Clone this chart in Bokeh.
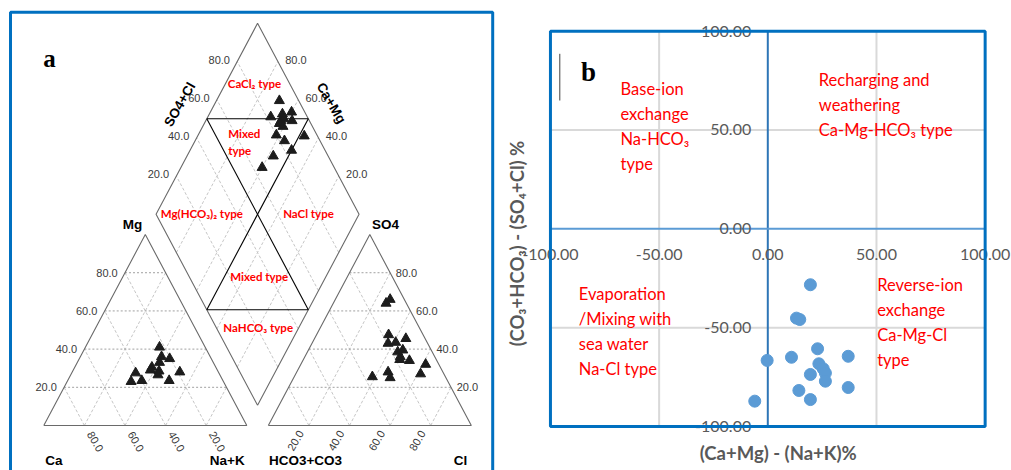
import numpy as np
from bokeh.plotting import figure
from bokeh.layouts import row
from bokeh.core.properties import value
from bokeh.embed import file_html
from bokeh.resources import INLINE

# ---------------- data ----------------
# Panel a: Piper diagram (percent)
cation_ca = [22.5, 24, 26.5, 20.5, 31.5, 33, 29, 30.5, 41, 40, 45.5, 26.5, 19]
cation_mg = [41, 36, 33, 35, 30.5, 29, 28.5, 26.5, 27.5, 23.5, 23, 23.5, 28]
cation_nak = [36.5, 40, 40.5, 44.5, 38, 38, 42.5, 43, 31.5, 36.5, 31.5, 50, 53]

anion_hco3 = [7, 10, 17, 9.5, 19.5, 15.5, 17, 14, 17, 18, 13.5, 6.5, 11.5, 36, 27, 27.5]
anion_so4 = [66, 64, 47.5, 45.5, 43, 43.5, 38.5, 39.5, 36, 34.5, 34, 32, 27, 25.5, 28, 25]
anion_cl = [27, 26, 35.5, 45, 37.5, 41, 44.5, 46.5, 47, 47.5, 52.5, 61.5, 61.5, 38.5, 45, 47.5]

diamond_camg = [69, 69, 64, 60, 63, 62, 57.5, 63, 60.5, 61.5, 47.5, 56, 57.5, 50, 60]
diamond_so4cl = [90.5, 82, 88.5, 93.5, 86, 88, 91.5, 84.5, 85.5, 80, 93.5, 82.5, 73, 83.5, 64.5]

piper_ticks = [20, 40, 60, 80]
piper_tick_labels = ["20.0", "40.0", "60.0", "80.0"]

# Panel b: Chadha plot
chadha_x = [19.6, 13.2, 14.7, 22.9, -0.3, 10.9, 37.0, 23.5, 25.5, 26.5, 19.6, 26.5, 14.3, 37.0, 19.6, -6.0]
chadha_y = [-28.3, -45.2, -45.9, -60.7, -66.6, -65.0, -64.5, -68.3, -70.8, -73.0, -73.7, -77.1, -81.8, -80.3, -86.4, -87.2]
chadha_ticks = [-100, -50, 0, 50, 100]
chadha_tick_labels = ["-100.00", "-50.00", "0.00", "50.00", "100.00"]

# ---------------- panel a ----------------
H = np.sqrt(3) / 2
GAP = 0.106
SXA, SYA = 203.0, 220.5
OXA, OYA = 43.3, 425.0
WA, HA = 496, 470
SPLIT = WA


def ax(px):
    return (px - OXA) / SXA


def ay(py):
    return (OYA - py) / SYA


pA = figure(width=WA, height=HA, x_range=(ax(0), ax(WA)), y_range=(ay(HA), ay(0)),
            x_axis_type=None, y_axis_type=None, toolbar_location=None, output_backend="svg",
            min_border=0, outline_line_color=None,
            background_fill_color="white", border_fill_color="white")


def cat_xy(ca, mg, nak):
    mg = np.asarray(mg, dtype=float) / 100
    nak = np.asarray(nak, dtype=float) / 100
    return nak + 0.5 * mg, H * mg


def an_xy(hco3, so4, cl):
    so4 = np.asarray(so4, dtype=float) / 100
    cl = np.asarray(cl, dtype=float) / 100
    return 1 + GAP + cl + 0.5 * so4, H * so4


BX, BY = 1 + GAP / 2, GAP * H


def dia_xy(camg, so4cl):
    a = np.asarray(camg, dtype=float) / 100
    b = np.asarray(so4cl, dtype=float) / 100
    return BX - 0.5 * a + 0.5 * b, BY + H * (a + b)


# grid lines
gx, gy, hx, hy = [], [], [], []
o = 1 + GAP
for t in piper_ticks:
    v = t / 100
    hx.append([0.5 * v, 1 - 0.5 * v]); hy.append([H * v, H * v])
    gx.append([1 - v, 0.5 * (1 - v)]); gy.append([0, H * (1 - v)])
    gx.append([v, v + 0.5 * (1 - v)]); gy.append([0, H * (1 - v)])
    hx.append([o + 0.5 * v, o + 1 - 0.5 * v]); hy.append([H * v, H * v])
    gx.append([o + 1 - v, o + 0.5 * (1 - v)]); gy.append([0, H * (1 - v)])
    gx.append([o + v, o + v + 0.5 * (1 - v)]); gy.append([0, H * (1 - v)])
    x1, y1 = dia_xy(t, 0); x2, y2 = dia_xy(t, 100)
    gx.append([float(x1), float(x2)]); gy.append([float(y1), float(y2)])
    x1, y1 = dia_xy(0, t); x2, y2 = dia_xy(100, t)
    gx.append([float(x1), float(x2)]); gy.append([float(y1), float(y2)])
pA.multi_line(gx, gy, line_color="#c6c6c6", line_width=1, line_dash="3 2")
pA.multi_line(hx, hy, line_color="#a0a0a0", line_width=1, line_dash="2 2")

# outlines
dcx, dcy = dia_xy([0, 100, 100, 0, 0], [0, 0, 100, 100, 0])
pA.multi_line([[0, 1, 0.5, 0], [o, o + 1, o + 0.5, o], list(dcx)],
              [[0, 0, H, 0], [0, 0, H, 0], list(dcy)],
              line_color="#6a6a6a", line_width=1.1)

# region lines in the diamond
rl = [((50, 0), (50, 100)), ((0, 50), (100, 50)), ((100, 50), (50, 100)), ((50, 0), (0, 50))]
rx, ry = [], []
for (a1, b1), (a2, b2) in rl:
    x1, y1 = dia_xy(a1, b1); x2, y2 = dia_xy(a2, b2)
    rx.append([float(x1), float(x2)]); ry.append([float(y1), float(y2)])
pA.multi_line(rx, ry, line_color="black", line_width=1.1)

# points
cx, cy = cat_xy(cation_ca, cation_mg, cation_nak)
axx, ayy = an_xy(anion_hco3, anion_so4, anion_cl)
dx, dy = dia_xy(diamond_camg, diamond_so4cl)
for X, Y in ((cx, cy), (axx, ayy), (dx, dy)):
    pA.scatter(list(X), list(Y), marker="triangle", size=10, color="#1c1c1c")

TICKF = value("Liberation Sans")


def ptext(p, xs, ys, texts, size, color="#3a3a3a", font=TICKF, style="normal",
          align="center", baseline="middle", angle=0.0):
    p.text(x=list(xs), y=list(ys), text=list(texts), text_font=font, text_font_size=size,
           text_color=color, text_font_style=style, text_align=align,
           text_baseline=baseline, angle=angle)


TS = "11px"
tv = np.array(piper_ticks, dtype=float)
# left triangle, Mg side
x, y = cat_xy(100 - tv, tv, 0 * tv)
ptext(pA, x - 18 / SXA, y, piper_tick_labels, TS)
# right triangle, SO4 side
x, y = an_xy(0 * tv, tv, 100 - tv)
ptext(pA, x + 16.4 / SXA, y, piper_tick_labels, TS)
# left triangle bottom (Ca)
x, y = cat_xy(tv, 0 * tv, 100 - tv)
ptext(pA, x + 11 / SXA, y - 16 / SYA, piper_tick_labels, TS, angle=-np.pi / 3)
# right triangle bottom (Cl)
x, y = an_xy(100 - tv, 0 * tv, tv)
ptext(pA, x - 13.5 / SXA, y - 15 / SYA, piper_tick_labels, TS, angle=np.pi / 3)
# diamond upper-left edge (SO4+Cl)
x, y = dia_xy(100 + 0 * tv, tv)
ptext(pA, x - 18 / SXA, y + 2 / SYA, piper_tick_labels, TS)
# diamond upper-right edge (Ca+Mg)
x, y = dia_xy(tv, 100 + 0 * tv)
ptext(pA, x + 18 / SXA, y + 2 / SYA, piper_tick_labels, TS)

# axis titles
ptext(pA, [ax(179.3)], [ay(104)], ["SO4+Cl"], "13.5px", color="black", style="bold", angle=np.pi / 3)
ptext(pA, [ax(330.8)], [ay(102.5)], ["Ca+Mg"], "13.5px", color="black", style="bold", angle=-np.pi / 3)
ptext(pA, [ax(132), ax(385)], [ay(223.5), ay(223.5)], ["Mg", "SO4"], "13.5px", color="black", style="bold")
ptext(pA, [ax(53.3), ax(226.7), ax(305), ax(460)], [ay(460)] * 4,
      ["Ca", "Na+K", "HCO3+CO3", "Cl"], "13.5px", color="black", style="bold")

# region names
REDF = value("Lato")
ptext(pA, [ax(254), ax(201.3), ax(308), ax(258.8), ax(257.7)],
      [ay(83.3), ay(213.3), ay(213.3), ay(275.7), ay(326.7)],
      ["CaCl\u2082 type", "Mg(HCO\u2083)\u2082 type", "NaCl type", "Mixed type", "NaHCO\u2083 type"],
      "11.5px", color="#ff0000", font=REDF, style="bold")
ptext(pA, [ax(227.7), ax(227.7)], [ay(132.7), ay(150)], ["Mixed", "type"],
      "11.5px", color="#ff0000", font=REDF, style="bold", align="left")

# panel letter
ptext(pA, [ax(49)], [ay(58)], ["a"], "25px", color="black", font=value("Liberation Serif"), style="bold")

# panel border
pA.line([ax(10), ax(10), ax(492.2), ax(492.2)], [ay(490), ay(11.7), ay(11.7), ay(490)],
        line_color="#0070C0", line_width=3)

# ---------------- panel b ----------------
WB, HB = 1011 - SPLIT, 470
KXB, KYB = 2.1735, 1.9765
OXB, OYB = 767.3, 228.3


def bx(px):
    return (px - OXB) / KXB


def by(py):
    return (OYB - py) / KYB


pB = figure(width=WB, height=HB, x_range=(bx(SPLIT), bx(1011)), y_range=(by(HB), by(0)),
            x_axis_type=None, y_axis_type=None, toolbar_location=None, output_backend="svg",
            min_border=0, outline_line_color=None,
            background_fill_color="white", border_fill_color="white")

lo, hi = chadha_ticks[0], chadha_ticks[-1]
inner = [t for t in chadha_ticks if t not in (lo, 0, hi)]
pB.multi_line([[t, t] for t in inner] + [[lo, hi] for _ in inner],
              [[lo, hi] for _ in inner] + [[t, t] for t in inner],
              line_color="#d9d9d9", line_width=2)
pB.line([0, 0], [lo, hi], line_color="#2E75B6", line_width=2)
pB.line([lo, hi], [0, 0], line_color="#5B9BD5", line_width=2)

pB.scatter(chadha_x, chadha_y, size=12, color="#5B9BD5")

LATO = value("Lato")
ptext(pB, [bx(750.7)] * len(chadha_ticks), chadha_ticks, chadha_tick_labels, "16px",
      color="#595959", font=LATO, align="right")
ptext(pB, chadha_ticks, [by(254)] * len(chadha_ticks), chadha_tick_labels, "16px",
      color="#595959", font=LATO)

pB.quad(left=[lo], right=[hi], bottom=[lo], top=[hi], fill_color=None,
        line_color="#0070C0", line_width=3)

# quadrant notes
notes = [
    (620, [88.3, 113.3, 138.3, 163.3], ["Base-ion", "exchange", "Na-HCO\u2083", "type"]),
    (818.3, [79.3, 104.3, 129.3], ["Recharging and", "weathering", "Ca-Mg-HCO\u2083 type"]),
    (578.3, [293.3, 318.3, 343.3, 368.3], ["Evaporation", "/Mixing with", "sea water", "Na-Cl type"]),
    (876.7, [284, 309, 334, 359], ["Reverse-ion", "exchange", "Ca-Mg-Cl", "type"]),
]
for px, pys, lines in notes:
    ptext(pB, [bx(px)] * len(lines), [by(q) for q in pys], lines, "16.5px",
          color="#ff0000", font=LATO, align="left")

ptext(pB, [bx(777.7)], [by(452)], ["(Ca+Mg) - (Na+K)%"], "18.5px", color="#595959",
      font=LATO, style="bold")
ptext(pB, [bx(516)], [by(243)], ["(CO\u2083+HCO\u2083) - (SO\u2084+Cl) %"], "18.5px",
      color="#595959", font=LATO, style="bold", angle=np.pi / 2)

ptext(pB, [bx(588)], [by(71)], ["b"], "27px", color="black", font=value("Liberation Serif"), style="bold")
pB.line([bx(559.3), bx(559.3)], [by(53.3), by(100)], line_color="#404040", line_width=1)

layout = row(pA, pB)
open("out.html", "w").write(file_html(layout, INLINE))
